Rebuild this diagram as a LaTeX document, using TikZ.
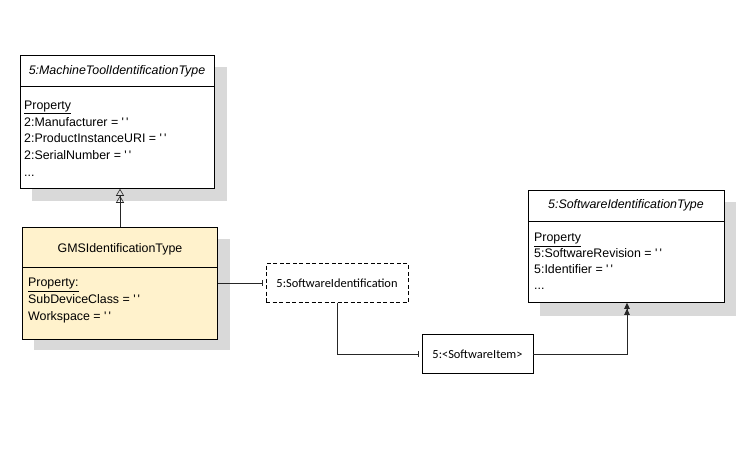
\documentclass[tikz,border=0pt]{standalone}
\usepackage{fontspec}
\newfontfamily\arial{Liberation Sans}
\newfontfamily\cali{Carlito}
\usetikzlibrary{arrows.meta}
\newcommand\qq{\char39\,\char39}
\tikzset{
  classbox/.style={draw=black, line width=0.8pt, fill=white, inner sep=0pt, anchor=north west},
  shadowbox/.style={fill=black!15, draw=none},
  titletext/.style={font=\arial\fontsize{12.4}{14}\selectfont\itshape, inner sep=0pt},
  bodytext/.style={font=\arial\fontsize{12.4}{16.8}\selectfont, align=left, inner sep=0pt, anchor=north west},
  instbox/.style={draw=black, line width=0.6pt, fill=white, inner sep=0pt, font=\cali\fontsize{12.4}{14}\selectfont},
  conn/.style={draw=black!85, line width=0.6pt},
}
\begin{document}
\begin{tikzpicture}[x=1pt,y=-1pt]
\useasboundingbox (0,0) rectangle (756,455);
% shadows
\fill[shadowbox] (32,67) rectangle (227,201);
\fill[shadowbox] (34,239) rectangle (230,350);
\fill[shadowbox] (540,202) rectangle (736,316);
% MachineToolIdentificationType
\node[classbox, minimum width=194pt, minimum height=133pt] (mt) at (20,55) {};
\draw[line width=0.6pt] (20,86) -- (214,86);
\node[titletext] (mtt) at (117,71) {5:MachineToolIdentificationType};
\node[bodytext] (mtb) at (24,100.5) {\underline{Property}\\2:Manufacturer = \qq\\2:ProductInstanceURI = \qq\\2:SerialNumber = \qq\\...};
% GMSIdentificationType
\node[classbox, fill={rgb,255:red,255;green,242;blue,204}, minimum width=195pt, minimum height=112pt] (gms) at (22,227) {};
\draw[line width=0.6pt] (22,267) -- (217,267);
\node[titletext, font=\arial\fontsize{12.4}{14}\selectfont] (gmst) at (120,249) {GMSIdentificationType};
\node[bodytext] (gmsb) at (28,278) {\underline{Property:}\\SubDeviceClass = \qq\\Workspace = \qq};
% SoftwareIdentificationType
\node[classbox, minimum width=196pt, minimum height=112pt] (sit) at (528,190) {};
\draw[line width=0.6pt] (528,221) -- (724,221);
\node[titletext] (sitt) at (626,205) {5:SoftwareIdentificationType};
\node[bodytext, font=\arial\fontsize{12.4}{16}\selectfont] (sitb) at (534,233) {\underline{Property}\\5:SoftwareRevision = \qq\\5:Identifier = \qq\\...};
% instance boxes
\node[instbox, dash pattern=on 4pt off 2.5pt, minimum width=142pt, minimum height=39pt] (si) at (337,283) {5:SoftwareIdentification};
\node[instbox, minimum width=111pt, minimum height=39pt] (item) at (477.5,354) {5:<SoftwareItem>};
% connectors
\draw[conn, -{Triangle[open,width=8pt,length=7pt] Triangle[open,width=8pt,length=7pt]}] (gms.north -| 120,0) -- (mt.south -| 120,0);
\draw[conn, -{Bar[width=6pt,sep=3pt]}] (gms.east |- 0,283) -- (si.west);
\draw[conn, -{Bar[width=6pt,sep=3pt]}] (si.south) |- (item.west);
\draw[conn, -{Triangle[width=5.5pt,length=6pt] Triangle[width=5.5pt,length=6pt]}] (item.east) -| (sit.south -| 627,0);
\end{tikzpicture}
\end{document}
